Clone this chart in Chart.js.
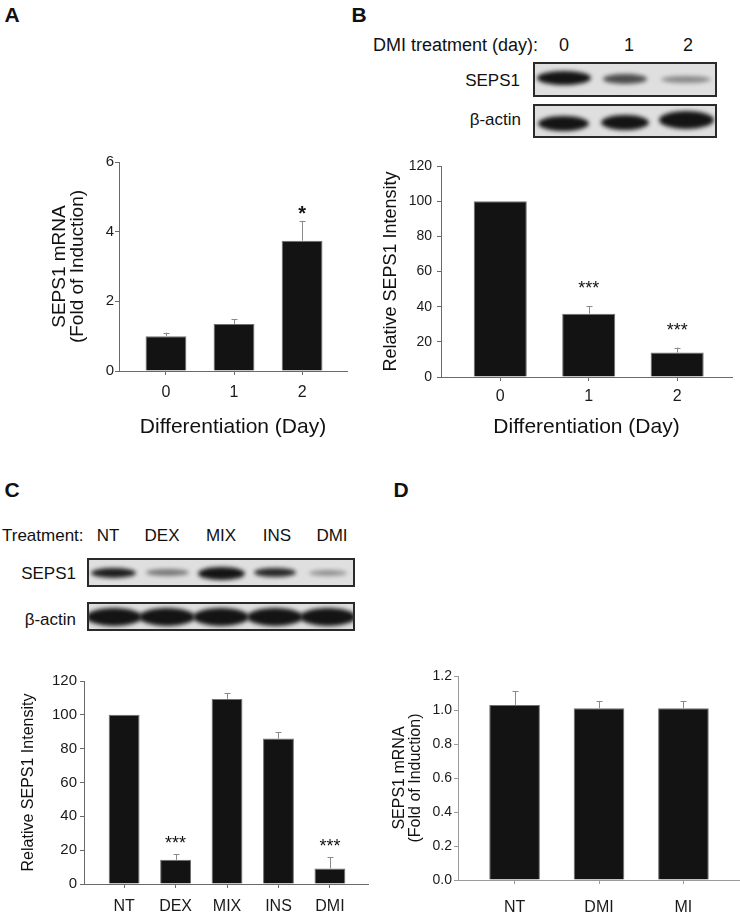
<!DOCTYPE html>
<html>
<head>
<meta charset="utf-8">
<script src="https://cdn.jsdelivr.net/npm/chart.js@4.4.1/dist/chart.umd.min.js"></script>
<style>
  body { margin: 0; background: #fff; }
  #fig { position: relative; width: 740px; height: 915px; overflow: hidden; font-family: "Liberation Sans", Arial, sans-serif; color: #111; }
  .txt { position: absolute; line-height: 1; white-space: nowrap; }
  canvas { position: absolute; }
  .blot { position: absolute; box-sizing: border-box; border: 2px solid #2a2a2a; background: #dfdfdf; overflow: hidden; }
  .band { position: absolute; border-radius: 50%; background: #141414; filter: blur(2px); }
</style>
</head>
<body>
<div id="fig"></div>
<script>
// A: SEPS1 mRNA during differentiation
const dayLabels = ['0', '1', '2'];
const mrnaByDay = [1.0, 1.35, 3.74];
const mrnaByDayErr = [0.1, 0.14, 0.57];
const mrnaByDayStars = ['', '', '*'];

// B: SEPS1 protein during differentiation
const intensityByDay = [100, 36, 13.9];
const intensityByDayErr = [0, 4.2, 2.8];
const intensityByDayStars = ['', '***', '***'];

// C: SEPS1 protein per treatment
const treatmentLabels = ['NT', 'DEX', 'MIX', 'INS', 'DMI'];
const intensityByTreatment = [100, 14.3, 109.4, 86, 9.2];
const intensityByTreatmentErr = [0, 3.4, 3.5, 3.6, 6.7];
const intensityByTreatmentStars = ['', '***', '', '', '***'];

// D: SEPS1 mRNA per treatment
const mrnaTreatLabels = ['NT', 'DMI', 'MI'];
const mrnaByTreatment = [1.03, 1.01, 1.01];
const mrnaByTreatmentErr = [0.08, 0.04, 0.04];
const mrnaByTreatmentStars = ['', '', ''];

// blot band look per lane (width, height, darkness, vertical shift)
const blotBSeps1 = [{w: 54, h: 14, a: 1, dy: -2}, {w: 44, h: 10, a: 0.72, dy: -1}, {w: 50, h: 7, a: 0.42, dy: 0}];
const blotBActin = [{w: 51, h: 15, a: 1, dy: 2}, {w: 48, h: 15, a: 1, dy: 1}, {w: 55, h: 18, a: 1, dy: -1}];
const blotCSeps1 = [{w: 45, h: 10, a: 0.95, dy: 0}, {w: 43, h: 7, a: 0.5, dy: 0}, {w: 47, h: 13, a: 1, dy: 1},
                    {w: 42, h: 9, a: 0.9, dy: 0}, {w: 38, h: 6, a: 0.38, dy: 0}];
const blotCActin = [{w: 56, h: 18, a: 1, dy: 0}, {w: 56, h: 18, a: 1, dy: 0}, {w: 56, h: 18, a: 1, dy: 0},
                    {w: 56, h: 18, a: 1, dy: 0}, {w: 56, h: 18, a: 1, dy: 0}];

const fig = document.getElementById('fig');
Chart.defaults.font.family = '"Liberation Sans", Arial, sans-serif';

function addText(str, x, y, size, align, bold) {
    const el = document.createElement('div');
    el.className = 'txt';
    el.textContent = str;
    el.style.fontSize = size + 'px';
    if (bold) {
        el.style.fontWeight = 'bold';
    }
    const tx = align === 'right' ? '-100%' : align === 'left' ? '0' : '-50%';
    el.style.left = x + 'px';
    el.style.top = y + 'px';
    el.style.transform = 'translate(' + tx + ', -50%)';
    fig.appendChild(el);
}

function addBlot(left, top, width, height, bands) {
    const box = document.createElement('div');
    box.className = 'blot';
    box.style.left = left + 'px';
    box.style.top = top + 'px';
    box.style.width = width + 'px';
    box.style.height = height + 'px';
    const lane = width / bands.length;
    bands.forEach((b, i) => {
        const band = document.createElement('div');
        band.className = 'band';
        const cx = lane * (i + 0.5) - 2;
        const cy = height / 2 + b.dy - 2;
        band.style.left = (cx - b.w / 2) + 'px';
        band.style.top = (cy - b.h / 2) + 'px';
        band.style.width = b.w + 'px';
        band.style.height = b.h + 'px';
        band.style.opacity = b.a;
        box.appendChild(band);
    });
    fig.appendChild(box);
}

function errorBars(errors, stars, starFont, starGap) {
    return {
        id: 'errorBars',
        afterDatasetsDraw(chart) {
            const ctx = chart.ctx;
            const yScale = chart.scales.y;
            const values = chart.data.datasets[0].data;
            ctx.save();
            chart.getDatasetMeta(0).data.forEach((bar, i) => {
                const top = yScale.getPixelForValue(values[i].y + errors[i]);
                const x = Math.round(bar.x) + 0.5;
                if (errors[i] > 0) {
                    ctx.strokeStyle = '#8a8a8a';
                    ctx.lineWidth = 1;
                    ctx.beginPath();
                    ctx.moveTo(x, bar.y);
                    ctx.lineTo(x, top);
                    ctx.moveTo(x - 3, Math.round(top) + 0.5);
                    ctx.lineTo(x + 3, Math.round(top) + 0.5);
                    ctx.stroke();
                }
                if (stars[i]) {
                    ctx.fillStyle = '#111';
                    ctx.font = starFont;
                    ctx.textAlign = 'center';
                    ctx.textBaseline = 'alphabetic';
                    ctx.fillText(stars[i], bar.x, top - starGap);
                }
            });
            ctx.restore();
        },
    };
}

function addBarChart(o) {
    const canvas = document.createElement('canvas');
    canvas.width = o.box.right - o.box.left;
    canvas.height = o.box.bottom - o.box.top;
    canvas.style.left = o.box.left + 'px';
    canvas.style.top = o.box.top + 'px';
    fig.appendChild(canvas);
    const yWidth = o.area.left - o.box.left;
    const xHeight = o.box.bottom - o.area.bottom;
    const axisGrey = o.axisColor || '#6a6a6a';

    let config = {
        type: 'bar',
        data: {
            datasets: [
                {
                    data: o.values.map((v, i) => ({x: i, y: v})),
                    backgroundColor: '#131313',
                    borderColor: '#707070',
                    borderWidth: 1,
                    borderSkipped: 'start',
                    barPercentage: 0.6,
                    categoryPercentage: 1,
                },
            ],
        },
        options: {
            responsive: false,
            animation: false,
            layout: {
                padding: {
                    top: o.area.top - o.box.top,
                    right: o.box.right - o.area.right,
                    left: 0,
                    bottom: 0,
                },
            },
            plugins: {
                legend: {display: false},
                tooltip: {enabled: false},
            },
            scales: {
                x: {
                    type: 'linear',
                    bounds: 'data',
                    offset: false,
                    min: o.xMin,
                    max: o.xMax,
                    afterBuildTicks: (s) => {
                        s.ticks = o.labels.map((l, i) => ({value: i}));
                    },
                    afterFit: (s) => {
                        s.height = xHeight;
                    },
                    ticks: {
                        autoSkip: false,
                        maxRotation: 0,
                        padding: o.xPad,
                        font: {size: o.xFont},
                        color: '#1a1a1a',
                        callback: (v) => o.labels[v],
                    },
                    grid: {offset: false, drawOnChartArea: false, tickLength: 4, color: axisGrey},
                    border: {color: axisGrey},
                    title: {
                        display: !!o.xTitle,
                        text: o.xTitle || '',
                        font: {size: 21, lineHeight: '24px'},
                        padding: 0,
                        color: '#111',
                    },
                },
                y: {
                    min: 0,
                    max: o.yMax,
                    afterFit: (s) => {
                        s.width = yWidth;
                    },
                    ticks: {
                        stepSize: o.yStep,
                        padding: o.yPad,
                        font: {size: o.yFont},
                        color: '#1a1a1a',
                        callback: o.yFormat,
                    },
                    grid: {drawOnChartArea: false, tickLength: 4, color: axisGrey},
                    border: {color: axisGrey},
                    title: {
                        display: true,
                        text: o.yTitle,
                        font: {size: o.yTitleSize, lineHeight: o.yTitleLine + 'px'},
                        padding: 0,
                        color: '#111',
                    },
                },
            },
        },
        plugins: [errorBars(o.errors, o.stars, o.starFont, o.starGap)],
    };
    return new Chart(canvas, config);
}

// panel letters
addText('A', 12, 14, 21, 'center', true);
addText('B', 359, 14, 21, 'center', true);
addText('C', 12, 489, 21, 'center', true);
addText('D', 401, 489, 21, 'center', true);

// B blot
addText('DMI treatment (day):', 373, 45, 18, 'left');
[564, 629, 688].forEach((x, i) => addText(dayLabels[i], x, 45, 18, 'center'));
addText('SEPS1', 520, 80, 17, 'right');
addText('\u03b2-actin', 521, 119, 17, 'right');
addBlot(533, 62, 184, 35, blotBSeps1);
addBlot(533, 104, 184, 34, blotBActin);

// C blot
addText('Treatment:', 2, 535, 17, 'left');
[108, 162, 221, 277, 332].forEach((x, i) => addText(treatmentLabels[i], x, 535, 17, 'center'));
addText('SEPS1', 76, 573, 17, 'right');
addText('\u03b2-actin', 76, 619, 17, 'right');
addBlot(87, 558, 268, 29, blotCSeps1);
addBlot(87, 602, 268, 29, blotCActin);

addBarChart({
    box: {left: 51, top: 140, right: 360, bottom: 439},
    area: {left: 119, top: 162, right: 347, bottom: 371},
    labels: dayLabels, values: mrnaByDay, errors: mrnaByDayErr, stars: mrnaByDayStars,
    starFont: 'bold 20px "Liberation Sans", Arial', starGap: 1,
    xMin: -0.69, xMax: 2.66, xPad: 8, xFont: 16, xTitle: 'Differentiation (Day)',
    yMax: 6, yStep: 2, yPad: 1, yFont: 15, yFormat: (v) => v,
    yTitle: ['SEPS1 mRNA', '(Fold of Induction)'], yTitleSize: 19, yTitleLine: 18,
});

addBarChart({
    box: {left: 381, top: 150, right: 740, bottom: 439},
    area: {left: 441, top: 166, right: 732, bottom: 377},
    labels: dayLabels, values: intensityByDay, errors: intensityByDayErr, stars: intensityByDayStars,
    starFont: '18px "Liberation Sans", Arial', starGap: 12,
    xMin: -0.67, xMax: 2.62, xPad: 6, xFont: 16, xTitle: 'Differentiation (Day)',
    yMax: 120, yStep: 20, yPad: 5, yFont: 14, yFormat: (v) => v,
    yTitle: 'Relative SEPS1 Intensity', yTitleSize: 18, yTitleLine: 21,
});

addBarChart({
    box: {left: 19, top: 660, right: 375, bottom: 915},
    area: {left: 84, top: 681, right: 368, bottom: 884},
    labels: treatmentLabels, values: intensityByTreatment, errors: intensityByTreatmentErr, stars: intensityByTreatmentStars,
    starFont: '18px "Liberation Sans", Arial', starGap: 5,
    xMin: -0.78, xMax: 4.74, xPad: 9, xFont: 16, xTitle: '',
    yMax: 120, yStep: 20, yPad: 3, yFont: 15, yFormat: (v) => v,
    yTitle: 'Relative SEPS1 Intensity', yTitleSize: 16, yTitleLine: 19,
});

addBarChart({
    box: {left: 392, top: 655, right: 740, bottom: 915},
    area: {left: 458, top: 676, right: 740, bottom: 880},
    labels: mrnaTreatLabels, values: mrnaByTreatment, errors: mrnaByTreatmentErr, stars: mrnaByTreatmentStars,
    starFont: '18px "Liberation Sans", Arial', starGap: 5,
    xMin: -0.67, xMax: 2.67, xPad: 14, xFont: 16, xTitle: '', axisColor: '#9a9a9a',
    yMax: 1.2, yStep: 0.2, yPad: 2, yFont: 14, yFormat: (v) => v.toFixed(1),
    yTitle: ['SEPS1 mRNA', '(Fold of Induction)'], yTitleSize: 16, yTitleLine: 16,
});
</script>
</body>
</html>
